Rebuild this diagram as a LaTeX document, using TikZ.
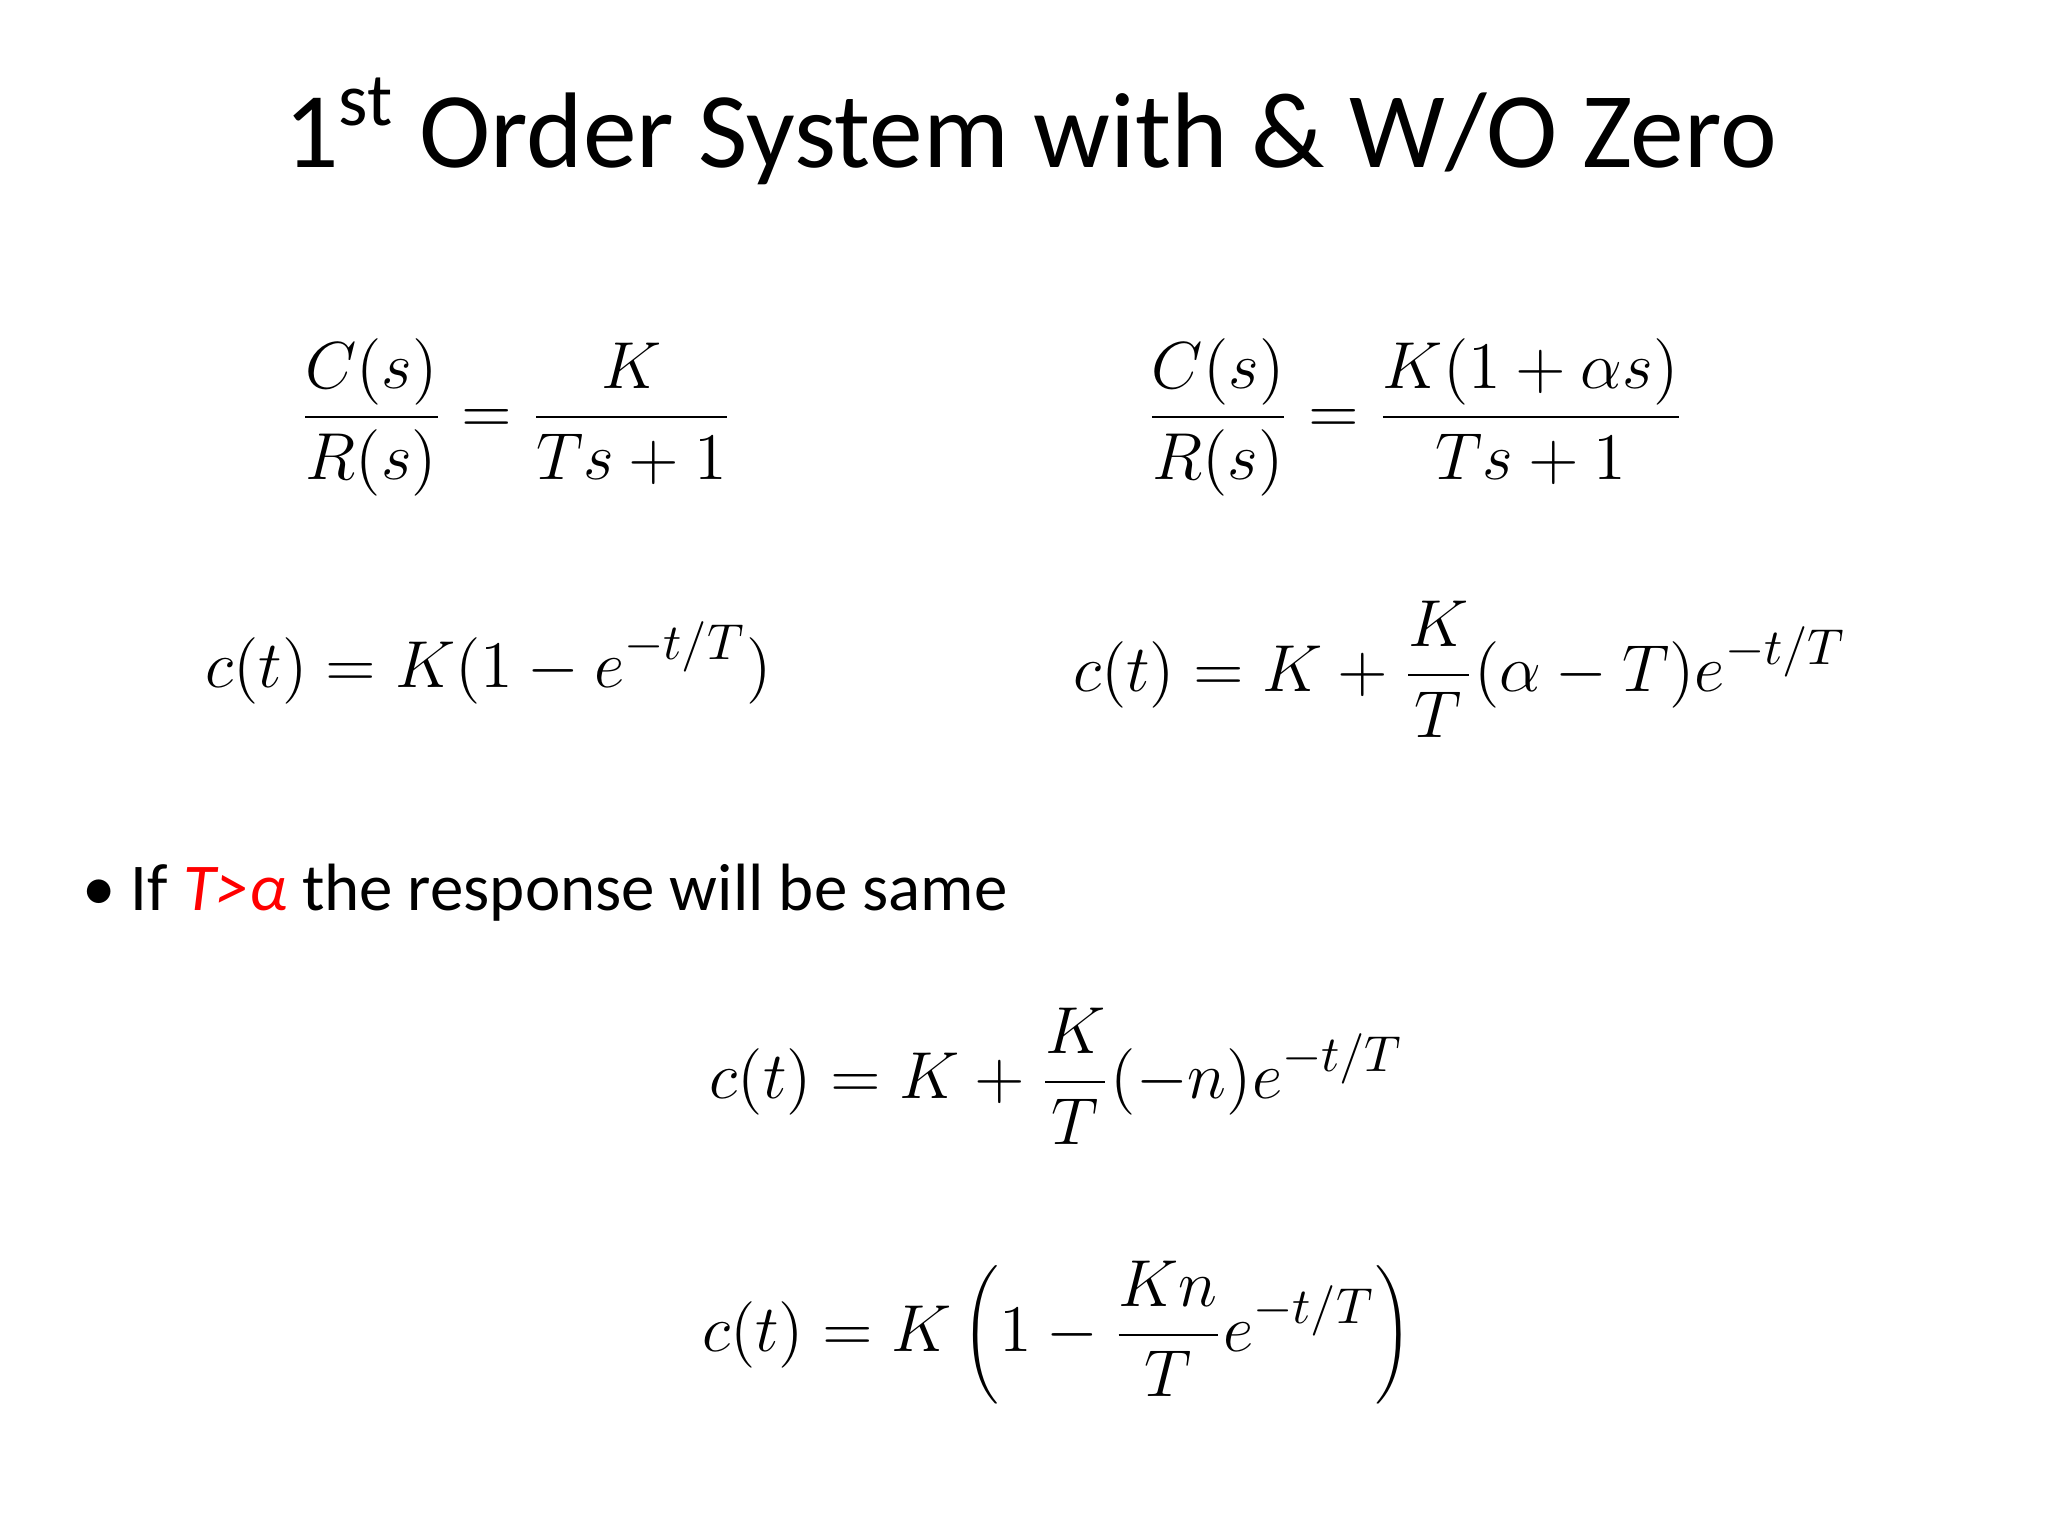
\documentclass[tikz,border=0pt]{standalone}
\usepackage{fontspec}
\setmainfont{Carlito}
\begin{document}
\begin{tikzpicture}[x=1cm,y=-1cm,
  eq/.style={font=\fontsize{15.2}{19}\selectfont, inner sep=0pt}]
\useasboundingbox (0,0) rectangle (15.6,11.7);
\node[font=\fontsize{23.3}{28}\selectfont, inner sep=0pt] (title) at (7.85,1.0) {1\textsuperscript{st} Order System with \& W/O Zero};
\node[eq] (e1) at (3.93,3.18) {$\displaystyle \frac{C(s)}{R(s)} = \frac{K}{Ts+1}$};
\node[eq] (e2) at (10.78,3.18) {$\displaystyle \frac{C(s)}{R(s)} = \frac{K(1+\alpha s)}{Ts+1}$};
\node[eq] (e3) at (3.72,5.05) {$\displaystyle c(t) = K\bigl(1 - e^{-t/T}\bigr)$};
\node[eq] (e4) at (11.12,5.10) {$\displaystyle c(t) = K + \frac{K}{T}(\alpha - T)e^{-t/T}$};
\node[anchor=west, font=\fontsize{14.5}{18}\selectfont, inner sep=0pt] (b) at (0.62,6.80) {\textbullet\ If \textcolor{red}{\itshape T>α} the response will be same};
\node[eq] (e5) at (8.05,8.20) {$\displaystyle c(t) = K + \frac{K}{T}(-n)e^{-t/T}$};
\node[eq] (e6) at (8.05,10.15) {$\displaystyle c(t) = K\left(1 - \frac{Kn}{T}e^{-t/T}\right)$};
\end{tikzpicture}
\end{document}
